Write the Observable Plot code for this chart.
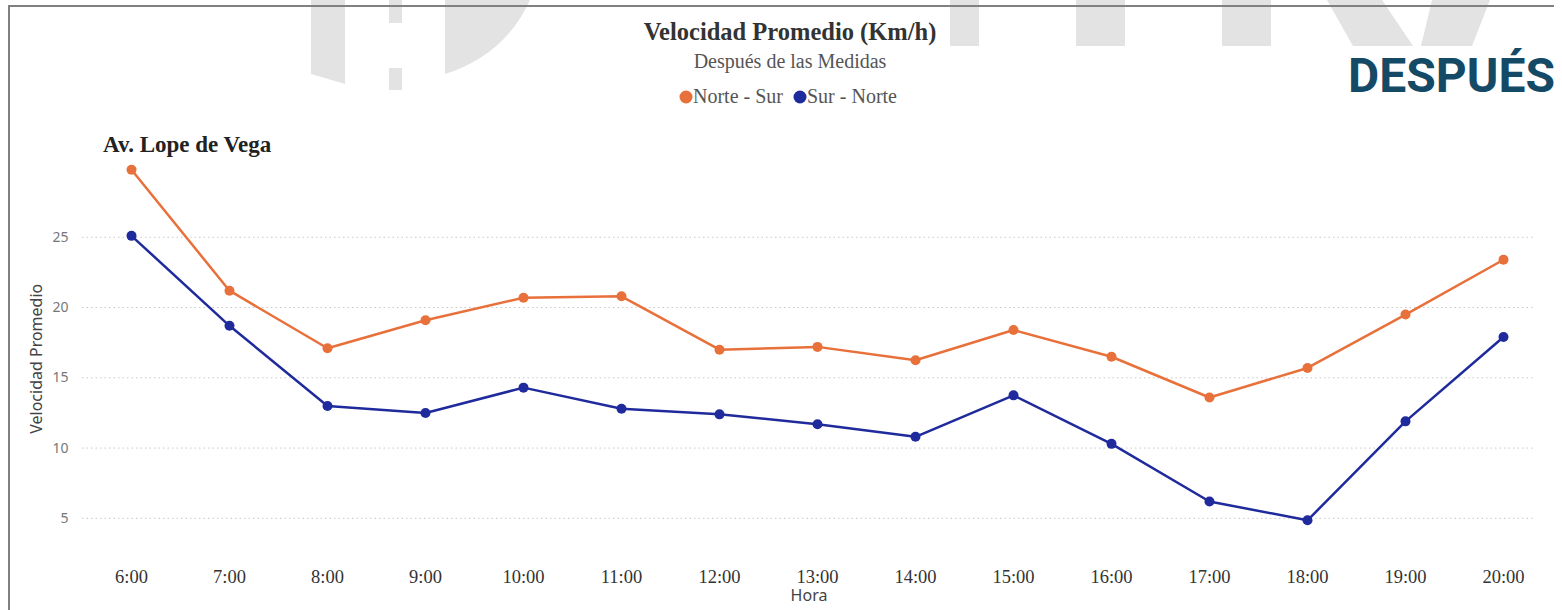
<!DOCTYPE html>
<html>
<head>
<meta charset="utf-8">
<script src="https://cdn.jsdelivr.net/npm/d3@7"></script>
<script src="https://cdn.jsdelivr.net/npm/@observablehq/plot@0.6"></script>
<style>
  html, body { margin: 0; padding: 0; background: #fff; }
  #wrap { position: relative; width: 1562px; height: 610px; overflow: hidden; }
  #wm, #chart, #ov { position: absolute; left: 0; top: 0; }
  #bl { position: absolute; left: 8px; top: 5px; width: 2px; height: 610px; background: #808080; }
  #bt { position: absolute; left: 8px; top: 5px; width: 1546px; height: 2px; background: #808080; }
  .serif { font-family: "Liberation Serif", serif; }
</style>
</head>
<body>
<div id="wrap">
  <svg id="wm" width="1562" height="120">
    <g fill="#e3e3e4">
      <polygon points="311,0 345,0 345,84 311,74"/>
      <rect x="389" y="0" width="13" height="23"/>
      <rect x="389" y="68" width="13" height="22"/>
      <path d="M445,0 L530,0 Q505,55 445,74 Z"/>
      <rect x="950" y="0" width="29" height="46"/>
      <rect x="1076" y="0" width="49" height="46"/>
      <rect x="1222" y="0" width="49" height="46"/>
      <polygon points="1327,0 1382,0 1413,46 1353,46"/>
      <polygon points="1432,0 1490,0 1472,46 1421,46"/>
    </g>
  </svg>
  <div id="bl"></div>
  <div id="bt"></div>
  <div id="chart"></div>
  <svg id="ov" width="1562" height="610">
    <text class="serif" x="790" y="40" text-anchor="middle" font-weight="bold" font-size="24.5" fill="#333">Velocidad Promedio (Km/h)</text>
    <text class="serif" x="790" y="68" text-anchor="middle" font-size="20" fill="#555">Después de las Medidas</text>
    <g id="legend"></g>
    <text class="serif" x="103" y="152" font-weight="bold" font-size="23" fill="#222">Av. Lope de Vega</text>
    <text x="1555" y="92" text-anchor="end" font-weight="bold" font-size="48" fill="#154a67"
      style="font-family: Roboto, 'Open Sans', sans-serif">DESPUÉS</text>
  </svg>
</div>
<script>
const horas = ["6:00","7:00","8:00","9:00","10:00","11:00","12:00","13:00","14:00","15:00","16:00","17:00","18:00","19:00","20:00"];
const norteSur = [29.8, 21.2, 17.1, 19.1, 20.7, 20.8, 17.0, 17.2, 16.25, 18.4, 16.5, 13.6, 15.7, 19.5, 23.4];
const surNorte = [25.1, 18.7, 13.0, 12.5, 14.3, 12.8, 12.4, 11.7, 10.8, 13.75, 10.3, 6.2, 4.86, 11.9, 17.9];
const series = ["Norte - Sur", "Sur - Norte"];
const colores = ["#e8703a", "#1f2b9c"];
const yTicks = [5, 10, 15, 20, 25];

const data = [];
horas.forEach((h, i) => data.push({hora: h, v: norteSur[i], serie: series[0]}));
horas.forEach((h, i) => data.push({hora: h, v: surNorte[i], serie: series[1]}));

// legend (dot + label per series)
const legendX = [686, 800];
const lg = d3.select("#legend");
series.forEach((s, i) => {
  lg.append("circle").attr("cx", legendX[i]).attr("cy", 97).attr("r", 6.5).attr("fill", colores[i]);
  lg.append("text").attr("class", "serif").attr("x", legendX[i] + 7).attr("y", 103)
    .attr("font-size", 20).attr("fill", "#555").text(s);
});

const chart = Plot.plot({
  width: 1562,
  height: 610,
  marginTop: 166.5,
  marginBottom: 50,
  marginLeft: 82,
  marginRight: 27,
  style: {background: "transparent", fontFamily: "'Noto Sans', sans-serif"},
  x: {type: "point", domain: horas, padding: 0, insetLeft: 48, insetRight: 32},
  y: {domain: [2, 30]},
  color: {domain: series, range: colores},
  marks: [
    Plot.ruleY(yTicks, {stroke: "#c8c8c8", strokeDasharray: "1.5,3", strokeWidth: 1}),
    Plot.axisY({ticks: yTicks, tickSize: 0, tickPadding: 14, fontSize: 14, fill: "#777", label: null}),
    Plot.axisX({tickSize: 0, tickPadding: 9, fontSize: 18.5, fill: "#333", fontFamily: "'Liberation Serif', serif", label: null}),
    Plot.text(["Velocidad Promedio"], {frameAnchor: "left", textAnchor: "middle", rotate: -90, dx: -46, dy: -5, fontSize: 16, fill: "#444"}),
    Plot.text(["Hora"], {frameAnchor: "bottom", dy: 40, fontSize: 16, fill: "#444"}),
    Plot.line(data, {x: "hora", y: "v", stroke: "serie", z: "serie", strokeWidth: 2.5}),
    Plot.dot(data, {x: "hora", y: "v", fill: "serie", r: 5})
  ]
});
document.getElementById("chart").appendChild(chart);
</script>
</body>
</html>
